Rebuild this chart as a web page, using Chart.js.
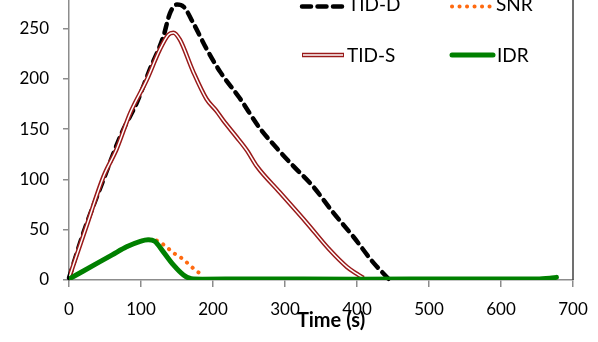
<!DOCTYPE html>
<html>
<head>
<meta charset="utf-8">
<script src="https://cdn.jsdelivr.net/npm/chart.js@4.4.1/dist/chart.umd.min.js"></script>
<style>
  html, body { margin: 0; padding: 0; background: #fff; }
  #wrap { width: 598px; height: 342px; position: relative; }
</style>
</head>
<body>
<div id="wrap"><canvas id="myChart"></canvas></div>
<script>
// values (time in s)
var tidDTime = [0, 20, 48, 73, 94, 112, 131, 140, 150, 159, 173, 191, 210, 237, 265, 290, 312, 339, 367, 395, 423, 436, 444];
var tidDVal  = [2, 47, 100, 146, 176, 209, 242, 265, 274, 272, 255, 230, 207, 181, 151, 130, 113, 93, 67, 43, 17, 7, 1];

var tidSTime = [0, 24, 48, 66, 85, 108, 126, 138, 145, 154, 172, 191, 205, 214, 233, 247, 261, 293, 330, 362, 386, 400, 409];
var tidSVal  = [2, 53, 103, 130, 166, 199, 229, 244, 246, 239, 208, 180, 168, 159, 142, 129, 113, 87, 57, 30, 13, 6, 2];

var snrTime = [0, 20, 40, 60, 80, 99, 110, 117, 126, 137, 147, 158, 168, 177, 188];
var snrVal  = [1, 9, 17, 25, 33, 38.5, 40, 40, 37.8, 31.8, 26, 21, 14.5, 9, 3.6];

var idrTime = [0, 20, 40, 60, 80, 99, 110, 119, 131, 145, 159, 170, 185, 250, 400, 550, 650, 668, 677];
var idrVal  = [1, 9, 17, 25, 33, 38.5, 40, 38.5, 28, 15, 5, 1.2, 0.8, 1, 0.8, 1, 1, 1.8, 2.6];

var xTicks = [0, 100, 200, 300, 400, 500, 600, 700];
var yTicks = [0, 50, 100, 150, 200, 250];
var xTitle = 'Time (s)';

function pts(t, v) {
  return t.map(function (x, i) { return { x: x, y: v[i] }; });
}

var FONT = "Lato, 'Open Sans', sans-serif";

// legend + axis title + right border, drawn by hand like the original
var legendPlugin = {
  id: 'ownLegend',
  afterDatasetsDraw: function (chart) {
    var ctx = chart.ctx;
    ctx.save();
    ctx.strokeStyle = '#404040';
    ctx.lineWidth = 1.5;
    ctx.beginPath();
    ctx.moveTo(chart.chartArea.right, 0);
    ctx.lineTo(chart.chartArea.right, chart.chartArea.bottom);
    ctx.stroke();

    ctx.fillStyle = '#000';
    ctx.font = 'bold 20px ' + FONT;
    ctx.textAlign = 'center';
    ctx.textBaseline = 'middle';
    ctx.fillText(xTitle, 331, 321);

    var items = [
      { ds: 0, x1: 302, x2: 345, y: 6.5, tx: 348, ty: 4.5 },
      { ds: 1, x1: 302, x2: 344, y: 55, tx: 347, ty: 55.5 },
      { ds: 3, x1: 452, x2: 492, y: 6.5, tx: 496, ty: 4.5 },
      { ds: 4, x1: 452, x2: 493, y: 55, tx: 497, ty: 55.5 }
    ];
    items.forEach(function (it) {
      var d = chart.data.datasets[it.ds];
      ctx.setLineDash(d.borderDash || []);
      ctx.lineCap = d.borderCapStyle || 'butt';
      ctx.strokeStyle = d.borderColor;
      ctx.lineWidth = d.borderWidth;
      ctx.beginPath();
      ctx.moveTo(it.x1, it.y);
      ctx.lineTo(it.x2, it.y);
      ctx.stroke();
      if (it.ds === 1) {
        ctx.strokeStyle = '#ffffff';
        ctx.lineWidth = 1.5;
        ctx.beginPath();
        ctx.moveTo(it.x1 + 1, it.y);
        ctx.lineTo(it.x2 - 1, it.y);
        ctx.stroke();
      }
      ctx.setLineDash([]);
      ctx.fillStyle = '#000';
      ctx.font = '19px ' + FONT;
      ctx.textBaseline = 'middle';
      ctx.textAlign = 'left';
      ctx.fillText(d.label, it.tx, it.ty);
    });
    ctx.restore();
  }
};

var ctx = document.getElementById('myChart').getContext('2d');
var myChart = new Chart(ctx, {
  type: 'line',
  data: {
    datasets: [
      {
        label: 'TID-D',
        data: pts(tidDTime, tidDVal),
        borderColor: '#000000',
        borderWidth: 4.5,
        borderDash: [9, 6.5],
        borderCapStyle: 'round',
        cubicInterpolationMode: 'monotone',
        pointRadius: 0,
        clip: false,
        order: 5
      },
      {
        label: 'TID-S',
        data: pts(tidSTime, tidSVal),
        borderColor: '#9a1a1a',
        borderWidth: 4.5,
        cubicInterpolationMode: 'monotone',
        pointRadius: 0,
        order: 4
      },
      {
        label: '',
        data: pts(tidSTime, tidSVal),
        borderColor: '#ffffff',
        borderWidth: 1.5,
        cubicInterpolationMode: 'monotone',
        pointRadius: 0,
        order: 3
      },
      {
        label: 'SNR',
        data: pts(snrTime, snrVal),
        borderColor: '#ff6a10',
        borderWidth: 4,
        borderDash: [0.1, 7.4],
        borderCapStyle: 'round',
        cubicInterpolationMode: 'monotone',
        pointRadius: 0,
        order: 2
      },
      {
        label: 'IDR',
        data: pts(idrTime, idrVal),
        borderColor: '#008000',
        borderWidth: 5,
        borderCapStyle: 'round',
        cubicInterpolationMode: 'monotone',
        pointRadius: 0,
        order: 1
      }
    ]
  },
  options: {
    responsive: true,
    maintainAspectRatio: false,
    animation: false,
    layout: { padding: { left: 0, right: 25, top: 0, bottom: 0 } },
    plugins: {
      legend: { display: false },
      tooltip: { enabled: false }
    },
    scales: {
      x: {
        type: 'linear',
        min: 0,
        max: 700,
        afterBuildTicks: function (scale) {
          scale.ticks = xTicks.map(function (v) { return { value: v }; });
        },
        afterFit: function (scale) {
          scale.height = 62;
          scale.paddingLeft = 0;
          scale.paddingRight = 0;
        },
        ticks: {
          autoSkip: false,
          maxRotation: 0,
          padding: 12,
          color: '#000',
          font: { family: FONT, size: 17 }
        },
        grid: { drawOnChartArea: false, drawTicks: true, tickLength: 7, color: '#8c8c8c', lineWidth: 1.5 },
        border: { display: true, color: '#8c8c8c', width: 1.5 }
      },
      y: {
        min: 0,
        max: 278.5,
        afterBuildTicks: function (scale) {
          scale.ticks = yTicks.map(function (v) { return { value: v }; });
        },
        afterFit: function (scale) {
          scale.width = 69;
          scale.paddingTop = 0;
          scale.paddingBottom = 0;
        },
        ticks: {
          padding: 14,
          color: '#000',
          font: { family: FONT, size: 17 }
        },
        grid: { drawOnChartArea: false, drawTicks: true, tickLength: 6, color: '#8c8c8c', lineWidth: 1.5 },
        border: { display: true, color: '#8c8c8c', width: 1.5 }
      }
    }
  },
  plugins: [legendPlugin]
});
</script>
</body>
</html>
